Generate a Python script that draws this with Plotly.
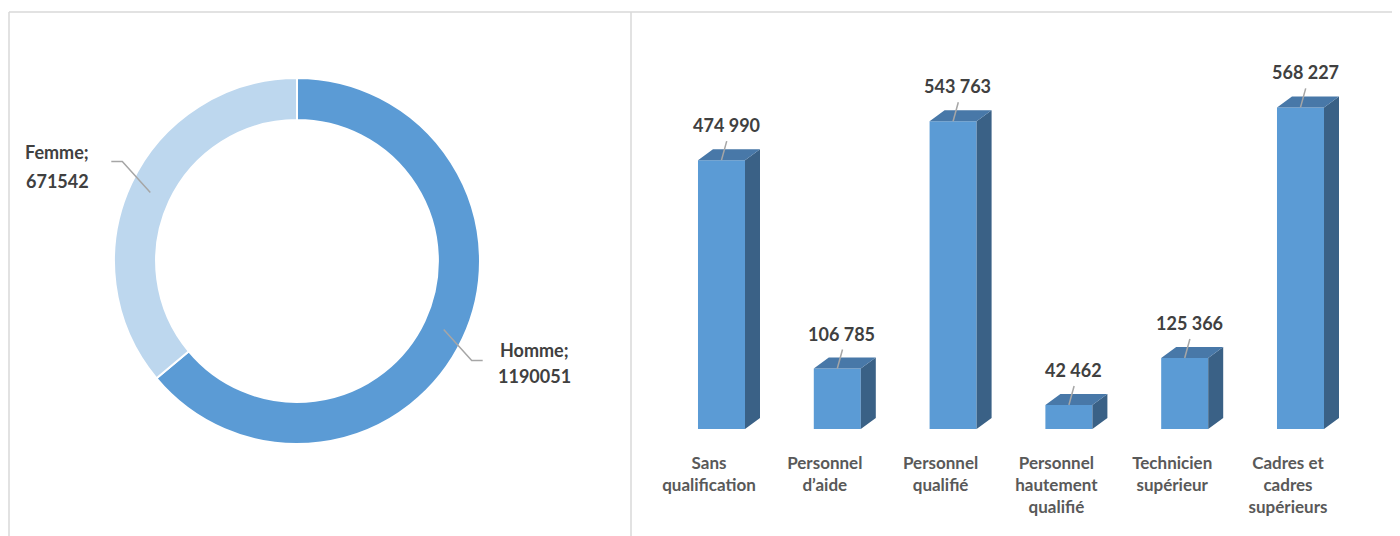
import math
import plotly.graph_objects as go

# ---------------- data ----------------
sexe_labels = ["Homme", "Femme"]
sexe_values = [1190051, 671542]

categories = [
    "Sans<br>qualification",
    "Personnel<br>d’aide",
    "Personnel<br>qualifié",
    "Personnel<br>hautement<br>qualifié",
    "Technicien<br>supérieur",
    "Cadres et<br>cadres<br>supérieurs",
]
effectifs = [474990, 106785, 543763, 42462, 125366, 568227]

# ---------------- styles ----------------
OFF = 8  # page body margin
W, H = 1400 - OFF, 536 - OFF
FONT = "Lato"
C_FRONT = "#5B9BD5"
C_TOP = "#4878A8"
C_SIDE = "#3A6186"
C_LIGHT = "#BDD7EE"
C_TEXT = "#404040"
C_CAT = "#595959"
C_LEADER = "#A6A6A6"
C_BORDER = "#D9D9D9"


def px(x):
    return (x - OFF) / W


def py(y):
    return 1 - (y - OFF) / H


fig = go.Figure()

# ---------------- donut ----------------
cx, cy, R = 297, 261, 183
hole = 0.77
fig.add_trace(go.Pie(
    labels=sexe_labels, values=sexe_values,
    hole=hole, sort=False, direction="clockwise", rotation=0,
    marker=dict(colors=[C_FRONT, C_LIGHT], line=dict(color="white", width=2)),
    textinfo="none", showlegend=False, hoverinfo="label+value",
    domain=dict(x=[px(cx - R), px(cx + R)], y=[py(cy + R), py(cy - R)]),
))

shapes = []
annotations = []
total = sum(sexe_values)
start = 0.0
rmid = R * (1 + hole) / 2
for lab, val in zip(sexe_labels, sexe_values):
    frac = val / total
    mid = (start + frac / 2) * 2 * math.pi
    start += frac
    sx = cx + rmid * math.sin(mid)
    sy = cy - rmid * math.cos(mid)
    side = 1 if math.sin(mid) > 0 else -1
    vert = 1 if math.cos(mid) < 0 else -1
    ex, ey = sx + side * 28, sy + vert * 31
    hx = ex + side * 11
    shapes.append(dict(type="path", xref="paper", yref="paper",
                       path=f"M {px(sx)},{py(sy)} L {px(ex)},{py(ey)} L {px(hx)},{py(ey)}",
                       line=dict(color=C_LEADER, width=1.5)))
    tx = hx + side * (52 if side > 0 else 54)
    offs = [-11, 15] if side > 0 else [-9, 20]
    for k, t in enumerate([f"{lab};", f"{val}"]):
        annotations.append(dict(
            x=px(tx), y=py(ey + offs[k]),
            xref="paper", yref="paper", text=t, showarrow=False,
            xanchor="center", yanchor="middle",
            font=dict(family=FONT, size=18, color=C_TEXT, weight=700)))

# ---------------- 3D bars ----------------
xs = list(range(len(effectifs)))
bw = 0.406
dx = 0.1295
y_per_px = 1766.8
dy = 11 * y_per_px

fig.add_trace(go.Bar(
    x=xs, y=effectifs, width=bw, marker=dict(color=C_FRONT, line=dict(width=0)),
    xaxis="x", yaxis="y", showlegend=False, hoverinfo="y",
))

side_x, side_y, top_x, top_y = [], [], [], []
for i, v in zip(xs, effectifs):
    r = i + bw / 2
    l = i - bw / 2
    side_x += [r, r + dx, r + dx, r, r, None]
    side_y += [0, dy, v + dy, v, 0, None]
    top_x += [l, l + dx, r + dx, r, l, None]
    top_y += [v, v + dy, v + dy, v, v, None]

fig.add_trace(go.Scatter(x=side_x, y=side_y, fill="toself", fillcolor=C_SIDE,
                         mode="lines", line=dict(width=0, color=C_SIDE),
                         showlegend=False, hoverinfo="skip", xaxis="x", yaxis="y"))
fig.add_trace(go.Scatter(x=top_x, y=top_y, fill="toself", fillcolor=C_TOP,
                         mode="lines", line=dict(width=0, color=C_TOP),
                         showlegend=False, hoverinfo="skip", xaxis="x", yaxis="y"))

for i, v in zip(xs, effectifs):
    shapes.append(dict(type="line", xref="x", yref="y",
                       x0=i, x1=i + 0.045, ysizemode="pixel", yanchor=v, y0=0, y1=19,
                       line=dict(color=C_LEADER, width=1.5)))
    annotations.append(dict(
        x=i + 0.04, y=v, xref="x", yref="y", yshift=35,
        text=f"{v:,}".replace(",", " "), showarrow=False,
        xanchor="center", yanchor="middle",
        font=dict(family=FONT, size=18, color=C_TEXT, weight=700)))

# ---------------- panel borders ----------------
LEFT_EDGE = 9
shapes += [
    dict(type="line", xref="paper", yref="paper", x0=px(LEFT_EDGE), x1=1.0, y0=py(12), y1=py(12),
         line=dict(color=C_BORDER, width=1.5)),
    dict(type="line", xref="paper", yref="paper", x0=px(LEFT_EDGE), x1=px(LEFT_EDGE), y0=py(12), y1=0,
         line=dict(color=C_BORDER, width=1.5)),
    dict(type="line", xref="paper", yref="paper", x0=px(631), x1=px(631), y0=py(12), y1=0,
         line=dict(color=C_BORDER, width=1.5)),
]

x_left_px = 721.5 - 0.7 * 115.8
x_right_px = x_left_px + 6.4 * 115.8
base_px, top_px = 429, 40

fig.update_layout(
    width=W, height=H,
    margin=dict(l=0, r=0, t=0, b=0),
    paper_bgcolor="white", plot_bgcolor="rgba(0,0,0,0)",
    xaxis=dict(domain=[px(x_left_px), px(x_right_px)], range=[-0.7, 5.7],
               tickvals=[i - 0.108 for i in xs], ticktext=categories,
               showgrid=False, zeroline=False, showline=False, ticks="",
               ticklabelstandoff=22,
               tickfont=dict(family=FONT, size=17, color=C_CAT, weight=700)),
    yaxis=dict(domain=[py(base_px), py(top_px)], range=[0, (base_px - top_px) * y_per_px],
               visible=False, showgrid=False, zeroline=False),
    shapes=shapes,
    annotations=annotations,
    showlegend=False,
)

fig.write_html("out.html")
